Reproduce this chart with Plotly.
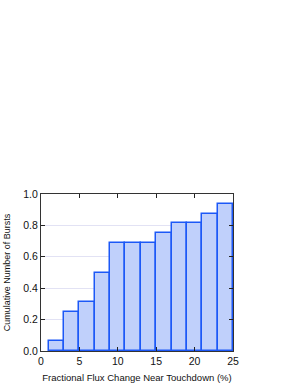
import plotly.graph_objects as go

bin_lefts = [1, 3, 5, 7, 9, 11, 13, 15, 17, 19, 21, 23]
bin_width = 2
cum_fraction = [0.0625, 0.25, 0.3125, 0.5, 0.6875, 0.6875, 0.6875, 0.75, 0.8125, 0.8125, 0.875, 0.9375]
x_ticks = [0, 5, 10, 15, 20, 25]
y_ticks = [0.0, 0.2, 0.4, 0.6, 0.8, 1.0]

centers = [b + bin_width / 2 for b in bin_lefts]

fig = go.Figure()
fig.add_trace(go.Bar(
    x=centers, y=cum_fraction, width=[bin_width] * len(centers),
    marker=dict(color="#c0d0fb", line=dict(color="#1c58f7", width=1.5)),
))

font = "Liberation Sans, Arial, sans-serif"
fig.update_layout(
    width=298, height=385,
    margin=dict(l=41, r=65, t=194, b=34, autoexpand=False),
    paper_bgcolor="white", plot_bgcolor="white",
    showlegend=False,
    bargap=0,
    font=dict(family=font, size=10, color="#111"),
    xaxis=dict(
        range=[0, 25], tickvals=x_ticks, ticks="inside", ticklen=4,
        tickcolor="#222", showline=True, linecolor="#333", linewidth=1, mirror="ticks",
        showgrid=False, zeroline=False, automargin=False,
        title=dict(text="Fractional Flux Change Near Touchdown (%)", font=dict(size=9.5), standoff=8),
        tickfont=dict(size=10.5),
    ),
    yaxis=dict(
        range=[0, 1.0], tickvals=y_ticks, tickformat=".1f", ticks="inside", ticklen=4,
        tickcolor="#222", showline=True, linecolor="#333", linewidth=1, mirror="ticks",
        showgrid=True, gridcolor="#e2e2f4", gridwidth=1, zeroline=False, automargin=False,
        title=dict(text="Cumulative Number of Bursts", font=dict(size=9), standoff=11),
        tickfont=dict(size=10.5),
    ),
)
fig.write_html(
    "out.html",
    config={"displayModeBar": False},
    post_script="document.body.style.margin='0';document.body.style.overflow='hidden';",
)
